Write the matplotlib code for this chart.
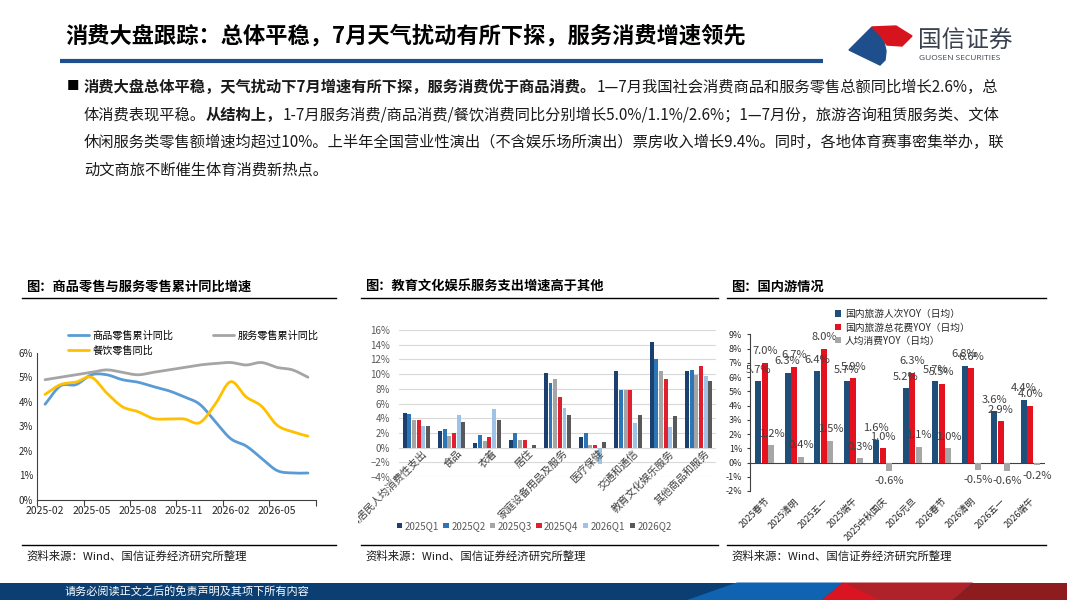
import numpy as np
import matplotlib.pyplot as plt
from matplotlib.patches import Polygon, Rectangle
from matplotlib.transforms import Bbox, TransformedBbox

plt.rcParams['font.family'] = ['Noto Sans CJK SC', 'DejaVu Sans']
plt.rcParams['axes.unicode_minus'] = False

W, H = 1067, 600

# ---------- 数据 ----------
# 左图：商品零售与服务零售累计同比增速 (%)
months = ['2025-02', '2025-03', '2025-04', '2025-05', '2025-06', '2025-07',
          '2025-08', '2025-09', '2025-10', '2025-11', '2025-12', '2026-01',
          '2026-02', '2026-03', '2026-04', '2026-05', '2026-06', '2026-07']
goods_yoy = [3.9, 4.65, 4.7, 5.1, 5.1, 4.9, 4.8, 4.62, 4.45, 4.2, 3.9, 3.2,
             2.5, 2.2, 1.7, 1.2, 1.1, 1.1]
service_yoy = [4.9, 5.0, 5.1, 5.2, 5.3, 5.2, 5.1, 5.2, 5.3, 5.4, 5.5, 5.56,
               5.6, 5.5, 5.6, 5.4, 5.3, 5.0]
catering_yoy = [4.3, 4.7, 4.8, 5.0, 4.35, 3.8, 3.6, 3.32, 3.3, 3.3, 3.15, 3.9,
                4.82, 4.2, 3.82, 3.05, 2.78, 2.6]

# 中图：居民消费支出分项增速 (%)
spend_cats = ['城镇居民人均消费性支出', '食品', '衣着', '居住', '家庭设备用品及服务',
              '医疗保健', '交通和通信', '教育文化娱乐服务', '其他商品和服务']
quarters = ['2025Q1', '2025Q2', '2025Q3', '2025Q4', '2026Q1', '2026Q2']
q2025q1 = [4.7, 2.3, 0.6, 1.0, 10.2, 1.4, 10.4, 14.3, 10.4]
q2025q2 = [4.6, 2.5, 1.7, 2.0, 8.8, 2.0, 7.9, 12.1, 10.5]
q2025q3 = [3.8, 1.6, 0.9, 1.1, 9.4, 0.4, 7.8, 10.4, 9.9]
q2025q4 = [3.8, 2.0, 1.5, 1.1, 6.9, 0.3, 7.8, 9.4, 11.1]
q2026q1 = [2.9, 4.5, 5.2, -0.1, 5.4, -2.2, 3.4, 2.8, 9.7]
q2026q2 = [3.0, 3.5, 3.8, 0.3, 4.4, 0.7, 4.5, 4.3, 9.0]

# 右图：国内游情况 (%)
holidays = ['2025春节', '2025清明', '2025五一', '2025端午', '2025中秋国庆',
            '2026元旦', '2026春节', '2026清明', '2026五一', '2026端午']
trips_yoy = [5.7, 6.3, 6.4, 5.7, 1.6, 5.2, 5.7, 6.8, 3.6, 4.4]
spend_yoy = [7.0, 6.7, 8.0, 5.9, 1.0, 6.3, 5.5, 6.6, 2.9, 4.0]
per_cap_yoy = [1.2, 0.4, 1.5, 0.3, -0.6, 1.1, 1.0, -0.5, -0.6, -0.2]


def box(x0, y0, x1, y1):
    return [x0 / W, 1 - y1 / H, (x1 - x0) / W, (y1 - y0) / H]


def smooth(x, y, n=16):
    # Catmull-Rom 曲线，模拟 Excel 平滑线
    x = np.asarray(x, float)
    y = np.asarray(y, float)
    px = np.concatenate([[2 * x[0] - x[1]], x, [2 * x[-1] - x[-2]]])
    py = np.concatenate([[2 * y[0] - y[1]], y, [2 * y[-1] - y[-2]]])
    t = np.linspace(0, 1, n, endpoint=False)
    xs, ys = [], []
    for i in range(1, len(px) - 2):
        for p, out in ((px, xs), (py, ys)):
            p0, p1, p2, p3 = p[i - 1], p[i], p[i + 1], p[i + 2]
            out.extend(0.5 * (2 * p1 + (-p0 + p2) * t
                              + (2 * p0 - 5 * p1 + 4 * p2 - p3) * t ** 2
                              + (-p0 + 3 * p1 - 3 * p2 + p3) * t ** 3))
    xs.append(x[-1])
    ys.append(y[-1])
    return np.array(xs), np.array(ys)


fig = plt.figure(figsize=(W / 100, H / 100), dpi=100)
bg = fig.add_axes([0, 0, 1, 1])
bg.set_xlim(0, W)
bg.set_ylim(H, 0)
bg.axis('off')

# ---------- 页眉 ----------
bg.text(65, 36, '消费大盘跟踪：总体平稳，7月天气扰动有所下探，服务消费增速领先',
        fontsize=16, fontweight='bold', va='center', color='black')
bg.plot([60, 823], [61, 61], color='#1F4E8C', lw=3, solid_capstyle='butt')
bg.add_patch(Polygon([(849, 50), (872, 27), (879, 34), (884, 42), (886, 51),
                      (885, 60), (880, 65)], closed=True, color='#1F4E8C'))
bg.add_patch(Polygon([(872, 27), (896, 26), (912, 36), (902, 46), (887, 45),
                      (881, 36)], closed=True, color='#D7141E'))
bg.text(918, 41.5, '国信证券', fontsize=17, va='center', color='#3A4250')
bg.text(919, 59, 'GUOSEN SECURITIES', fontsize=6, va='center', color='#3A4250',
        family=['Open Sans', 'DejaVu Sans'])

# ---------- 正文段落 ----------
renderer = fig.canvas.get_renderer()
para = [
    [('消费大盘总体平稳，天气扰动下7月增速有所下探，服务消费优于商品消费。', True),
     ('1—7月我国社会消费商品和服务零售总额同比增长2.6%，总', False)],
    [('体消费表现平稳。', False), ('从结构上，', True),
     ('1-7月服务消费/商品消费/餐饮消费同比分别增长5.0%/1.1%/2.6%；1—7月份，旅游咨询租赁服务类、文体', False)],
    [('休闲服务类零售额增速均超过10%。上半年全国营业性演出（不含娱乐场所演出）票房收入增长9.4%。同时，各地体育赛事密集举办，联', False)],
    [('动文商旅不断催生体育消费新热点。', False)],
]
bg.text(67, 87, '■', fontsize=9, va='center', color='black')
for k, line in enumerate(para):
    x = 84
    y = 87 + k * 27.7
    for seg, bold in line:
        t = bg.text(x, y, seg, fontsize=11, va='center', color='#1A1A1A',
                    fontweight='bold' if bold else 'normal')
        x += t.get_window_extent(renderer).width

# ---------- 分图标题与来源 ----------
panels = [(22, 336, '图：商品零售与服务零售累计同比增速'),
          (361, 718, '图：教育文化娱乐服务支出增速高于其他'),
          (727, 1046, '图：国内游情况')]
for x0, x1, title in panels:
    bg.text(x0 + 4, 287, title, fontsize=9.5, fontweight='bold', va='center')
    bg.plot([x0, x1], [297.5, 297.5], color='black', lw=1)
    bg.plot([x0, x1], [545, 545], color='black', lw=1)
    bg.text(x0 + 4, 556, '资料来源：Wind、国信证券经济研究所整理', fontsize=8.2,
            va='center', color='#1A1A1A')

# ---------- 页脚 ----------
bg.add_patch(Rectangle((0, 582.5), W, 17.5, color='#0B3F73', lw=0))
bg.add_patch(Polygon([(737, 582.5), (843, 582.5), (822, 600), (687, 600)],
                     color='#0F63B0', lw=0))
bg.add_patch(Polygon([(843, 582.5), (973, 582.5), (953, 600), (822, 600)],
                     color='#B0222A', lw=0))
bg.add_patch(Polygon([(843, 582.5), (880, 600), (822, 600)], color='#DA1420', lw=0))
bg.add_patch(Polygon([(973, 582.5), (W, 582.5), (W, 600), (953, 600)],
                     color='#8E1C1F', lw=0))
bg.text(65, 591, '请务必阅读正文之后的免责声明及其项下所有内容', fontsize=8,
        va='center', color='white')

# ---------- 左图 ----------
ax1 = fig.add_axes(box(37.3, 352.7, 315.7, 500))
xi = np.arange(len(months))
series1 = [(goods_yoy, '#5B9BD5', '商品零售累计同比'),
           (service_yoy, '#A5A5A5', '服务零售累计同比'),
           (catering_yoy, '#FFC000', '餐饮零售同比')]
for vals, col, lab in series1:
    sx, sy = smooth(xi, vals)
    ax1.plot(sx, sy, color=col, lw=2, label=lab, solid_capstyle='round')
ax1.set_xlim(-0.5, len(months) - 0.5)
ax1.set_ylim(0, 6)
ax1.set_yticks(range(0, 7))
ax1.set_yticklabels([f'{v}%' for v in range(0, 7)])
ax1.set_xticks(np.arange(-0.5, len(months), 3))
ax1.set_xticklabels([])
ax1.set_xticks(xi[::3], minor=True)
ax1.set_xticklabels(months[::3], minor=True)
ax1.tick_params(axis='x', which='major', length=4, width=0.8, color='#404040')
ax1.tick_params(axis='x', which='minor', length=0, labelsize=7.5, labelcolor='#262626', pad=4)
ax1.tick_params(axis='y', length=0, labelsize=7, labelcolor='#262626', pad=3)
for s in ['top', 'right']:
    ax1.spines[s].set_visible(False)
for s in ['left', 'bottom']:
    ax1.spines[s].set_color('#404040')
    ax1.spines[s].set_linewidth(0.8)
ax1.set_facecolor('none')
h, l = ax1.get_legend_handles_labels()
ax1.legend([h[0], h[2], h[1]], [l[0], l[2], l[1]], ncol=2, loc='upper left',
           bbox_to_anchor=(68 / W, 1 - 330.5 / H), bbox_transform=fig.transFigure,
           frameon=False, fontsize=7.3, handlelength=2.1, handletextpad=0.3,
           columnspacing=3.9, labelspacing=0.45, borderpad=0, borderaxespad=0)

# ---------- 中图 ----------
ax2 = fig.add_axes(box(398.6, 330, 716.4, 477))
q_series = [q2025q1, q2025q2, q2025q3, q2025q4, q2026q1, q2026q2]
q_colors = ['#1B3F6E', '#2E75B6', '#A5A5A5', '#E0202E', '#9DC3E6', '#595959']
ci = np.arange(len(spend_cats))
step = 0.132
for j, (vals, col, lab) in enumerate(zip(q_series, q_colors, quarters)):
    ax2.bar(ci + (j - 2.5) * step, vals, width=step * 0.85, color=col, label=lab, zorder=3)
ax2.set_xlim(-0.5, len(spend_cats) - 0.5)
ax2.set_ylim(-4, 16)
ax2.set_yticks(range(-4, 17, 2))
ax2.set_yticklabels([f'{v}%'.replace('-', '−') for v in range(-4, 17, 2)])
ax2.yaxis.grid(True, color='#D9D9D9', lw=0.8, zorder=0)
ax2.set_xticks([])
ax2.tick_params(axis='y', length=0, labelsize=7, labelcolor='#595959', pad=6)
for s in ax2.spines.values():
    s.set_visible(False)
ax2.set_facecolor('none')
clip = TransformedBbox(Bbox([[358 / W, 0], [722 / W, 1]]), fig.transFigure)
for i, lab in enumerate(spend_cats):
    t = ax2.text(i + 0.15, -0.1, lab, rotation=45, ha='right', va='top',
                 rotation_mode='anchor', fontsize=7.5, color='#404040')
    t.set_clip_box(clip)
    t.set_clip_on(True)
ax2.legend(ncol=6, loc='center left', bbox_to_anchor=(392 / W, 1 - 526 / H),
           bbox_transform=fig.transFigure, frameon=False, fontsize=7,
           handlelength=0.55, handleheight=0.55, handletextpad=0.25,
           columnspacing=0.45, borderpad=0, labelcolor='#595959')

# ---------- 右图 ----------
ax3 = fig.add_axes(box(750, 334.3, 1045, 491))
hi = np.arange(len(holidays))
hstep = 0.226
r_series = [(trips_yoy, '#1F4E79', '国内旅游人次YOY（日均）'),
            (spend_yoy, '#E3121E', '国内旅游总花费YOY（日均）'),
            (per_cap_yoy, '#A6A6A6', '人均消费YOY（日均）')]
for j, (vals, col, lab) in enumerate(r_series):
    xs = hi + (j - 1) * hstep
    ax3.bar(xs, vals, width=0.2, color=col, label=lab, zorder=3)
    for x, v in zip(xs, vals):
        off = 8.4 if v >= 0 else -7.4
        ax3.annotate(f'{v:.1f}%', (x, v), xytext=(0, off), textcoords='offset points',
                     ha='center', va='center', fontsize=8, color='#404040', zorder=4)
ax3.axhline(0, color='#404040', lw=0.8, zorder=2)
ax3.set_xlim(-0.5, len(holidays) - 0.5)
ax3.set_ylim(-2, 9)
ax3.set_yticks(range(-2, 10))
ax3.set_yticklabels([f'{v}%' for v in range(-2, 10)])
ax3.set_xticks(hi)
ax3.set_xticklabels(holidays, rotation=45, ha='right', rotation_mode='anchor')
ax3.tick_params(axis='x', length=0, labelsize=6.5, labelcolor='#262626', pad=4)
ax3.tick_params(axis='y', length=2.5, width=0.8, color='#404040', labelsize=6.5,
                labelcolor='#262626', pad=3)
for s in ['top', 'right', 'bottom']:
    ax3.spines[s].set_visible(False)
ax3.spines['left'].set_color('#404040')
ax3.spines['left'].set_linewidth(0.8)
ax3.set_facecolor('none')
ax3.legend(loc='upper left', bbox_to_anchor=(835 / W, 1 - 309 / H),
           bbox_transform=fig.transFigure, frameon=False, fontsize=7,
           handlelength=0.6, handleheight=0.6, handletextpad=0.4,
           labelspacing=0.35, borderpad=0, borderaxespad=0, labelcolor='#262626')

fig.savefig('out.png', dpi=100, facecolor='white')
